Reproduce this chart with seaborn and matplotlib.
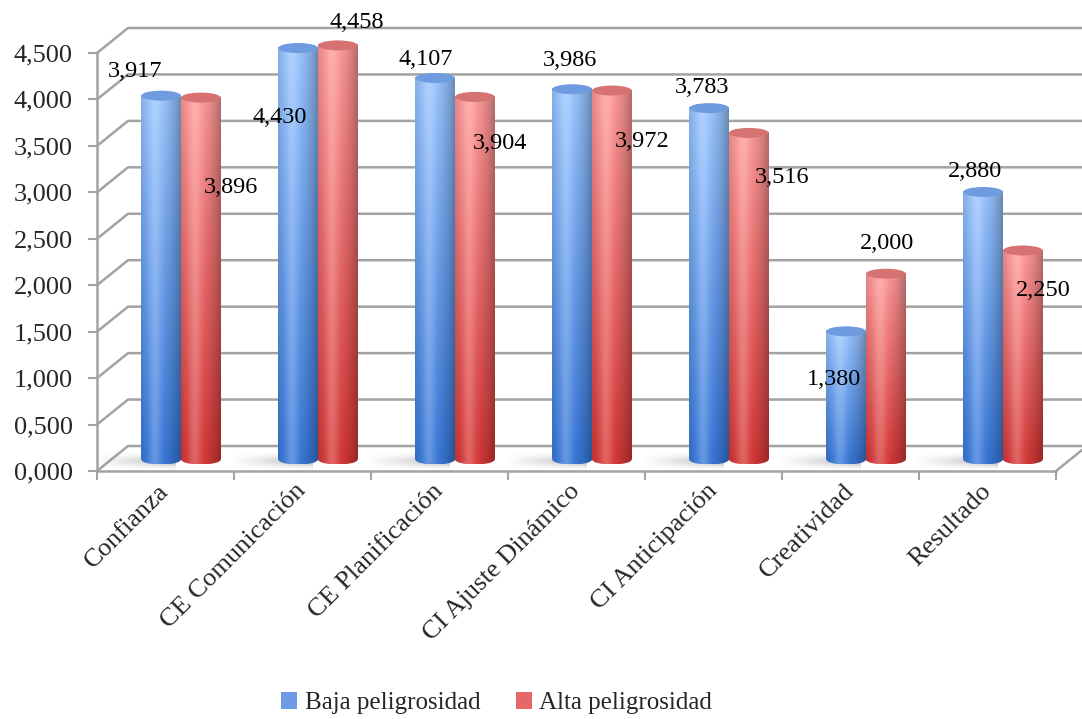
"""
Baja vs. alta peligrosidad: cilindros estilo Excel 3D
"""

import numpy as np
import pandas as pd
import seaborn as sns
import matplotlib.pyplot as plt
from matplotlib import transforms
from matplotlib.patches import Ellipse, Patch
from matplotlib.lines import Line2D
from matplotlib.ticker import FuncFormatter

# --- Data ---
categorias = [
    "Confianza",
    "CE Comunicación",
    "CE Planificación",
    "CI Ajuste Dinámico",
    "CI Anticipación",
    "Creatividad",
    "Resultado",
]
grupos = ["Baja peligrosidad", "Alta peligrosidad"]
baja = [3.917, 4.430, 4.107, 3.986, 3.783, 1.380, 2.880]
alta = [3.896, 4.458, 3.904, 3.972, 3.516, 2.000, 2.250]
y_ticks = [0, 0.5, 1.0, 1.5, 2.0, 2.5, 3.0, 3.5, 4.0, 4.5]

# label offsets in pixels from the top of each cylinder (Excel's odd placement)
off_baja = [(-26, 24), (-18, -69), (-9, 19), (-2, 29), (-7, 21), (-12, -48), (-8, 20)]
off_alta = [(30, -90), (19, 23), (25, -47), (30, -51), (33, -45), (1, 30), (20, -40)]

df = pd.DataFrame({
    "Categoria": categorias * 2,
    "Grupo": [grupos[0]] * len(baja) + [grupos[1]] * len(alta),
    "Valor": baja + alta,
})

# colours (top, bottom, cap)
azul = {"top": np.array([0.60, 0.77, 1.00]), "bot": np.array([0.22, 0.47, 0.85]), "cap": "#6f9be0"}
rojo = {"top": np.array([1.00, 0.60, 0.60]), "bot": np.array([0.84, 0.22, 0.22]), "cap": "#d77272"}
gris = "#a3a3a3"

sns.set_theme(style="white")
plt.rcParams["font.family"] = ["Liberation Serif", "DejaVu Serif"]

fig = plt.figure(figsize=(10.82, 7.19), dpi=100)
ax = fig.add_axes([97 / 1082, (719 - 471) / 719, (1056 - 97) / 1082, (471 - 53) / 719])

sns.barplot(data=df, x="Categoria", y="Valor", hue="Grupo", order=categorias,
            hue_order=grupos, palette=["#4f86dd", "#dd5050"], width=0.58, gap=0,
            errorbar=None, legend=False, ax=ax)

ax.set_xlim(-0.5, 6.5)
ax.set_ylim(0, 4.5)

# bars sit a bit behind the front axis plane
bar_trans = ax.transData + transforms.ScaledTranslation(15.5 / 100, 11.5 / 100, fig.dpi_scale_trans)
depth = np.array([31, 25])


def gradiente(top, bot, nx=80, ny=80):
    t = np.linspace(0, 1, ny)[:, None, None]
    col = bot + (top - bot) * t
    u = np.linspace(0, 1, nx)
    dark = 0.30 * (np.abs(u - 0.38) / 0.62) ** 2
    lite = 0.22 * np.exp(-((u - 0.35) / 0.16) ** 2)
    img = col * (1 - dark)[None, :, None]
    img = img + (1 - img) * lite[None, :, None]
    return np.clip(img, 0, 1)


def sombra(nx=60, ny=20):
    u = np.linspace(0, 1, nx)[None, :]
    v = np.linspace(-1, 1, ny)[:, None]
    a = 0.55 * np.clip(u, 0, 1) ** 1.1 * np.exp(-(v / 0.6) ** 2)
    img = np.zeros((ny, nx, 4))
    img[..., :3] = 0.5
    img[..., 3] = a
    return img


cap_h = 10 / 92.9  # ellipse height in data units

for patch in list(ax.patches):
    x0, w, h = patch.get_x(), patch.get_width(), patch.get_height()
    xc = x0 + w / 2
    i = int(round(xc))
    serie = 0 if xc < i else 1
    c = azul if serie == 0 else rojo
    patch.set_visible(False)

    if serie == 0:
        ax.imshow(sombra(), extent=(x0 - 0.35, x0 + 0.25, -0.11, 0.08), origin="lower",
                  transform=bar_trans, aspect="auto", interpolation="bilinear", zorder=2.5)

    img = gradiente(c["top"], c["bot"])
    body = ax.imshow(img, extent=(x0, x0 + w, 0, h), origin="lower", transform=bar_trans,
                     aspect="auto", interpolation="bilinear", zorder=3 + serie)
    body.set_clip_on(False)
    base = Ellipse((xc, 0), w, cap_h, transform=bar_trans, zorder=3 + serie)
    base.set_facecolor("none")
    base.set_edgecolor("none")
    ax.add_patch(base)
    bim = ax.imshow(gradiente(c["bot"], c["bot"]), extent=(x0, x0 + w, -cap_h / 2, 0.02),
                    origin="lower", transform=bar_trans, aspect="auto",
                    interpolation="bilinear", zorder=3 + serie)
    bim.set_clip_path(base)
    ax.add_patch(Ellipse((xc, h), w, cap_h, transform=bar_trans, facecolor=c["cap"],
                         edgecolor="none", zorder=3.2 + serie, clip_on=False))

    dx, dy = (off_baja if serie == 0 else off_alta)[i]
    ax.annotate(f"{h:.3f}".replace(".", ","), xy=(xc, h), xycoords=bar_trans,
                xytext=(dx, dy), textcoords="offset pixels", ha="center", va="center",
                fontsize=17.5, color="black", zorder=6, annotation_clip=False)

ax.set_xlim(-0.5, 6.5)
ax.set_ylim(0, 4.5)

# back wall gridlines with the diagonal to the front axis
for v in y_ticks:
    p0 = ax.transData.transform((-0.5, v))
    p1 = p0 + depth
    ax.add_line(Line2D([p0[0], p1[0], 1100], [p0[1], p1[1], p1[1]],
                       transform=transforms.IdentityTransform(), color=gris, lw=1.8,
                       clip_on=False, zorder=1))
q0 = ax.transData.transform((6.5, 0))
ax.add_line(Line2D([q0[0], q0[0] + depth[0]], [q0[1], q0[1] + depth[1]],
                   transform=transforms.IdentityTransform(), color=gris, lw=1.8,
                   clip_on=False, zorder=1))

# axes styling
for s in ["top", "right"]:
    ax.spines[s].set_visible(False)
for s in ["left", "bottom"]:
    ax.spines[s].set_color(gris)
    ax.spines[s].set_linewidth(1.8)

ax.set_yticks(y_ticks)
ax.yaxis.set_major_formatter(FuncFormatter(lambda v, _: f"{v:.3f}".replace(".", ",")))
ax.tick_params(axis="y", left=True, length=6.5, width=1.5, color=gris, pad=11,
               labelsize=19, direction="out")

ax.set_xticks(np.arange(-0.5, 7, 1), minor=True)
ax.set_xticks(range(len(categorias)))
ax.set_xticklabels(categorias, rotation=45, ha="right", va="center", rotation_mode="anchor")
ax.tick_params(axis="x", which="major", bottom=False, length=0, pad=12, labelsize=19)
ax.tick_params(axis="x", which="minor", bottom=True, length=6.5, width=1.5, color=gris,
               direction="out")
ax.set_xlabel("")
ax.set_ylabel("")
ax.set_facecolor("none")

handles = [Patch(facecolor="#6f9be6", edgecolor="none"), Patch(facecolor="#e56767", edgecolor="none")]
fig.legend(handles=handles, labels=grupos, loc="center", bbox_to_anchor=(0.459, 0.022),
           ncol=2, frameon=False, fontsize=18, handlelength=0.65, handleheight=0.65,
           handletextpad=0.3, columnspacing=1.4)

plt.savefig("out.png", dpi=100)
